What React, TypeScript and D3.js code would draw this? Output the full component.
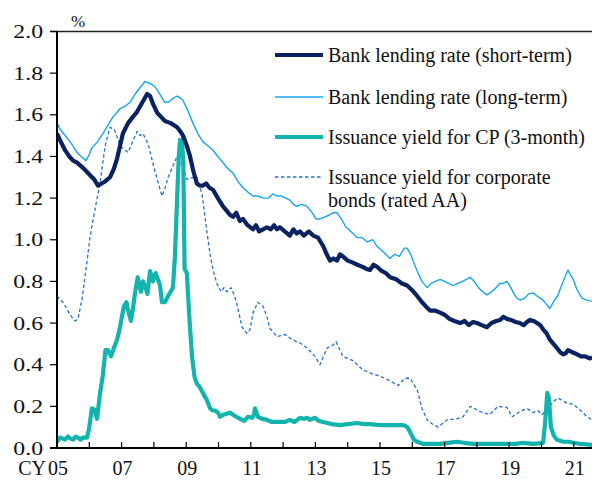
import React, { useEffect, useRef } from 'react';
import * as d3 from 'd3';

// [year (decimal), % ]
const shortTermRate: [number, number][] = [
  [2005.0, 1.51], [2005.12, 1.47], [2005.25, 1.43], [2005.38, 1.40], [2005.5, 1.38], [2005.62, 1.37],
  [2005.77, 1.35], [2005.9, 1.33], [2006.02, 1.31], [2006.15, 1.29], [2006.27, 1.26], [2006.38, 1.27],
  [2006.49, 1.28], [2006.64, 1.30], [2006.76, 1.34], [2006.86, 1.39], [2006.95, 1.45], [2007.04, 1.51],
  [2007.2, 1.56], [2007.35, 1.59], [2007.46, 1.61], [2007.57, 1.64], [2007.68, 1.67], [2007.79, 1.70],
  [2007.88, 1.69], [2007.98, 1.65], [2008.1, 1.61], [2008.22, 1.59], [2008.34, 1.57], [2008.52, 1.56],
  [2008.72, 1.54], [2008.82, 1.52], [2008.9, 1.50], [2009.0, 1.46], [2009.12, 1.40], [2009.22, 1.33],
  [2009.33, 1.27], [2009.42, 1.26], [2009.52, 1.26], [2009.62, 1.27], [2009.72, 1.25], [2009.83, 1.24],
  [2009.98, 1.20], [2010.14, 1.16], [2010.25, 1.14], [2010.35, 1.12], [2010.45, 1.11], [2010.55, 1.13],
  [2010.66, 1.09], [2010.76, 1.10], [2010.9, 1.07], [2011.07, 1.05], [2011.16, 1.07], [2011.26, 1.04],
  [2011.38, 1.05], [2011.5, 1.06], [2011.62, 1.05], [2011.72, 1.07], [2011.81, 1.05], [2011.9, 1.06],
  [2012.05, 1.04], [2012.21, 1.02], [2012.32, 1.05], [2012.42, 1.03], [2012.52, 1.04], [2012.64, 1.02],
  [2012.8, 1.04], [2012.93, 1.02], [2013.08, 1.01], [2013.24, 0.97], [2013.35, 0.93], [2013.45, 0.90],
  [2013.56, 0.91], [2013.67, 0.90], [2013.76, 0.93], [2013.85, 0.92], [2014.0, 0.90], [2014.16, 0.89],
  [2014.3, 0.88], [2014.46, 0.87], [2014.58, 0.86], [2014.69, 0.855], [2014.8, 0.88], [2014.91, 0.87],
  [2015.05, 0.85], [2015.18, 0.84], [2015.31, 0.82], [2015.5, 0.81], [2015.68, 0.79], [2015.84, 0.78],
  [2015.98, 0.76], [2016.15, 0.73], [2016.3, 0.70], [2016.42, 0.68], [2016.55, 0.66], [2016.7, 0.66],
  [2016.86, 0.65], [2017.0, 0.64], [2017.15, 0.62], [2017.3, 0.61], [2017.48, 0.60], [2017.62, 0.61],
  [2017.75, 0.59], [2017.88, 0.605], [2018.0, 0.60], [2018.15, 0.59], [2018.31, 0.58], [2018.45, 0.60],
  [2018.6, 0.61], [2018.72, 0.615], [2018.82, 0.63], [2018.93, 0.62], [2019.05, 0.615], [2019.2, 0.605],
  [2019.33, 0.60], [2019.45, 0.59], [2019.55, 0.605], [2019.64, 0.615], [2019.76, 0.61], [2019.86, 0.60],
  [2019.96, 0.59], [2020.05, 0.57], [2020.16, 0.55], [2020.26, 0.52], [2020.37, 0.50], [2020.48, 0.48],
  [2020.58, 0.46], [2020.67, 0.45], [2020.75, 0.455], [2020.82, 0.47], [2020.95, 0.46], [2021.1, 0.45],
  [2021.22, 0.44], [2021.35, 0.44], [2021.5, 0.43], [2021.57, 0.435],
];

const longTermRate: [number, number][] = [
  [2005.0, 1.56], [2005.1, 1.53], [2005.2, 1.51], [2005.31, 1.49], [2005.45, 1.46], [2005.62, 1.42],
  [2005.75, 1.40], [2005.9, 1.38], [2006.0, 1.41], [2006.08, 1.44], [2006.25, 1.47], [2006.42, 1.51],
  [2006.58, 1.55], [2006.73, 1.59], [2006.85, 1.61], [2006.95, 1.63], [2007.1, 1.64], [2007.26, 1.66],
  [2007.42, 1.70], [2007.57, 1.73], [2007.72, 1.76], [2007.88, 1.75], [2008.0, 1.74], [2008.1, 1.72],
  [2008.22, 1.69], [2008.34, 1.66], [2008.45, 1.66], [2008.6, 1.68], [2008.72, 1.69], [2008.82, 1.68],
  [2008.9, 1.67], [2009.05, 1.62], [2009.21, 1.56], [2009.36, 1.51], [2009.52, 1.47], [2009.68, 1.45],
  [2009.83, 1.43], [2009.98, 1.40], [2010.14, 1.37], [2010.3, 1.34], [2010.45, 1.32], [2010.6, 1.28],
  [2010.76, 1.25], [2010.9, 1.23], [2011.07, 1.21], [2011.22, 1.21], [2011.38, 1.20], [2011.55, 1.20],
  [2011.68, 1.22], [2011.81, 1.21], [2011.95, 1.21], [2012.08, 1.20], [2012.21, 1.19], [2012.32, 1.17],
  [2012.43, 1.16], [2012.58, 1.17], [2012.74, 1.16], [2012.9, 1.13], [2013.02, 1.10], [2013.14, 1.10],
  [2013.3, 1.11], [2013.45, 1.12], [2013.55, 1.13], [2013.67, 1.13], [2013.8, 1.10], [2013.95, 1.06],
  [2014.1, 1.04], [2014.29, 1.01], [2014.45, 1.01], [2014.6, 0.99], [2014.78, 1.00], [2014.9, 0.97],
  [2015.05, 0.95], [2015.18, 0.93], [2015.31, 0.91], [2015.45, 0.93], [2015.6, 0.92], [2015.75, 0.96],
  [2015.84, 0.96], [2015.95, 0.93], [2016.02, 0.90], [2016.15, 0.85], [2016.3, 0.80], [2016.46, 0.77],
  [2016.58, 0.79], [2016.72, 0.80], [2016.86, 0.81], [2017.0, 0.80], [2017.12, 0.79], [2017.26, 0.78],
  [2017.4, 0.79], [2017.55, 0.80], [2017.68, 0.81], [2017.79, 0.82], [2017.92, 0.80], [2018.05, 0.77],
  [2018.18, 0.75], [2018.31, 0.735], [2018.45, 0.75], [2018.6, 0.77], [2018.7, 0.79], [2018.81, 0.79],
  [2018.93, 0.80], [2019.05, 0.77], [2019.15, 0.74], [2019.24, 0.72], [2019.35, 0.71], [2019.48, 0.72],
  [2019.6, 0.74], [2019.74, 0.745], [2019.86, 0.73], [2019.96, 0.72], [2020.05, 0.71], [2020.15, 0.69],
  [2020.26, 0.67], [2020.4, 0.71], [2020.5, 0.73], [2020.57, 0.76], [2020.7, 0.81], [2020.82, 0.855],
  [2020.9, 0.83], [2020.98, 0.81], [2021.1, 0.76], [2021.25, 0.72], [2021.4, 0.71], [2021.57, 0.705],
];

const cpYield: [number, number][] = [
  [2005.0, 0.03], [2005.09, 0.05], [2005.18, 0.045], [2005.25, 0.04], [2005.34, 0.055], [2005.42, 0.045],
  [2005.5, 0.04], [2005.58, 0.055], [2005.65, 0.05], [2005.73, 0.04], [2005.8, 0.05], [2005.93, 0.05],
  [2005.99, 0.09], [2006.08, 0.19], [2006.15, 0.185], [2006.24, 0.14], [2006.33, 0.26], [2006.42, 0.35],
  [2006.5, 0.47], [2006.58, 0.47], [2006.67, 0.44], [2006.76, 0.48], [2006.86, 0.52], [2006.95, 0.58],
  [2007.07, 0.68], [2007.15, 0.70], [2007.2, 0.66], [2007.29, 0.61], [2007.36, 0.68], [2007.41, 0.74],
  [2007.5, 0.82], [2007.55, 0.78], [2007.6, 0.75], [2007.66, 0.80], [2007.72, 0.78], [2007.8, 0.74],
  [2007.88, 0.85], [2007.97, 0.80], [2008.05, 0.84], [2008.1, 0.82], [2008.19, 0.78], [2008.25, 0.70],
  [2008.34, 0.70], [2008.44, 0.73], [2008.59, 0.77], [2008.65, 0.92], [2008.72, 1.20], [2008.77, 1.40],
  [2008.81, 1.48], [2008.87, 1.47], [2008.91, 1.38], [2008.95, 0.86], [2009.02, 0.84], [2009.1, 0.62],
  [2009.18, 0.44], [2009.26, 0.34], [2009.33, 0.31], [2009.43, 0.29], [2009.53, 0.26], [2009.64, 0.23],
  [2009.74, 0.19], [2009.82, 0.18], [2009.89, 0.18], [2009.98, 0.17], [2010.05, 0.15], [2010.15, 0.16],
  [2010.27, 0.165], [2010.36, 0.17], [2010.45, 0.16], [2010.55, 0.15], [2010.67, 0.14], [2010.8, 0.13],
  [2010.91, 0.15], [2011.04, 0.145], [2011.1, 0.16], [2011.13, 0.19], [2011.22, 0.15], [2011.35, 0.14],
  [2011.5, 0.135], [2011.65, 0.125], [2011.9, 0.125], [2012.05, 0.125], [2012.21, 0.135], [2012.35, 0.125],
  [2012.52, 0.145], [2012.65, 0.14], [2012.75, 0.145], [2012.83, 0.135], [2012.99, 0.145], [2013.1, 0.13],
  [2013.24, 0.125], [2013.5, 0.115], [2013.76, 0.11], [2014.0, 0.115], [2014.29, 0.12], [2014.5, 0.115],
  [2014.69, 0.115], [2015.0, 0.11], [2015.31, 0.11], [2015.5, 0.11], [2015.71, 0.11], [2015.8, 0.105],
  [2015.87, 0.095], [2015.95, 0.07], [2016.05, 0.04], [2016.15, 0.03], [2016.33, 0.02], [2016.6, 0.02],
  [2016.86, 0.02], [2017.1, 0.025], [2017.38, 0.03], [2017.6, 0.025], [2017.88, 0.02], [2018.2, 0.02],
  [2018.6, 0.02], [2018.93, 0.02], [2019.2, 0.02], [2019.43, 0.025], [2019.75, 0.02], [2020.05, 0.025],
  [2020.11, 0.12], [2020.18, 0.265], [2020.23, 0.24], [2020.29, 0.10], [2020.38, 0.06], [2020.48, 0.04],
  [2020.67, 0.03], [2020.85, 0.03], [2020.98, 0.025], [2021.2, 0.02], [2021.57, 0.015],
];

const corporateBondYield: [number, number][] = [
  [2005.0, 0.73], [2005.1, 0.71], [2005.19, 0.70], [2005.3, 0.67], [2005.4, 0.64], [2005.5, 0.62],
  [2005.56, 0.61], [2005.65, 0.62], [2005.77, 0.71], [2005.9, 0.86], [2006.02, 1.01], [2006.18, 1.15],
  [2006.33, 1.27], [2006.49, 1.45], [2006.64, 1.54], [2006.77, 1.53], [2006.87, 1.49], [2006.95, 1.45],
  [2007.11, 1.43], [2007.2, 1.42], [2007.34, 1.47], [2007.48, 1.52], [2007.57, 1.50], [2007.66, 1.51],
  [2007.82, 1.46], [2008.03, 1.33], [2008.14, 1.27], [2008.25, 1.21], [2008.35, 1.25], [2008.44, 1.30],
  [2008.58, 1.35], [2008.72, 1.40], [2008.8, 1.36], [2008.87, 1.38], [2008.94, 1.33], [2009.02, 1.29],
  [2009.21, 1.30], [2009.33, 1.30], [2009.49, 1.22], [2009.64, 1.04], [2009.74, 0.93], [2009.83, 0.855],
  [2009.95, 0.79], [2010.08, 0.75], [2010.17, 0.77], [2010.26, 0.75], [2010.39, 0.77], [2010.51, 0.725],
  [2010.6, 0.67], [2010.73, 0.58], [2010.88, 0.55], [2010.98, 0.57], [2011.07, 0.65], [2011.22, 0.70],
  [2011.38, 0.68], [2011.5, 0.63], [2011.59, 0.575], [2011.81, 0.535], [2012.06, 0.545], [2012.28, 0.52],
  [2012.52, 0.505], [2012.74, 0.48], [2012.99, 0.44], [2013.14, 0.40], [2013.36, 0.48], [2013.51, 0.49],
  [2013.64, 0.51], [2013.85, 0.44], [2014.16, 0.42], [2014.47, 0.375], [2014.78, 0.355], [2015.0, 0.345],
  [2015.22, 0.33], [2015.56, 0.30], [2015.77, 0.335], [2015.93, 0.335], [2016.15, 0.28], [2016.3, 0.19],
  [2016.46, 0.135], [2016.62, 0.115], [2016.8, 0.10], [2016.95, 0.12], [2017.07, 0.135], [2017.38, 0.14],
  [2017.57, 0.15], [2017.79, 0.20], [2018.1, 0.175], [2018.4, 0.16], [2018.65, 0.20], [2018.93, 0.195],
  [2019.09, 0.15], [2019.33, 0.175], [2019.55, 0.19], [2019.74, 0.17], [2019.89, 0.18], [2020.02, 0.16],
  [2020.2, 0.19], [2020.35, 0.22], [2020.51, 0.24], [2020.79, 0.215], [2020.98, 0.21], [2021.25, 0.175],
  [2021.41, 0.15], [2021.57, 0.135],
];

const yTicks = [0, 0.2, 0.4, 0.6, 0.8, 1.0, 1.2, 1.4, 1.6, 1.8, 2.0];
const yearTicks = d3.range(2006, 2022);
const yearLabels = [2005, 2007, 2009, 2011, 2013, 2015, 2017, 2019, 2021];

const seriesNames = [
  ['Bank lending rate (short-term)'],
  ['Bank lending rate (long-term)'],
  ['Issuance yield for CP (3-month)'],
  ['Issuance yield for corporate', 'bonds (rated AA)'],
];

const W = 592;
const H = 480;
const FONT = '"Liberation Serif", "Times New Roman", serif';

export default function App() {
  const svgRef = useRef<SVGSVGElement>(null);

  useEffect(() => {
    const svg = d3.select(svgRef.current);
    svg.selectAll('*').remove();

    const left = 57;
    const top = 31.5;
    const bottom = 448;

    const x = d3.scaleLinear().domain([2005, 2022]).range([left, left + 17 * 32.3]);
    const y = d3.scaleLinear().domain([0, 2]).range([bottom, top]);

    // Series: style per legend entry
    const styles = [
      { data: shortTermRate, color: '#0b2262', width: 4.2, dash: null },
      { data: longTermRate, color: '#16a6ec', width: 1.4, dash: null },
      { data: cpYield, color: '#13b3ae', width: 4.2, dash: null },
      { data: corporateBondYield, color: '#2473c9', width: 1.3, dash: '3.5,2.5' },
    ];

    svg.append('defs')
      .append('clipPath')
      .attr('id', 'plot-clip')
      .append('rect')
      .attr('x', left)
      .attr('y', 0)
      .attr('width', W - left)
      .attr('height', bottom);

    const line = d3
      .line<[number, number]>()
      .x(d => x(d[0]))
      .y(d => y(d[1]));

    const plot = svg.append('g').attr('clip-path', 'url(#plot-clip)');
    // draw thin series first, then thick ones on top
    [3, 1, 2, 0].forEach(i => {
      const s = styles[i];
      plot
        .append('path')
        .attr('d', line(s.data))
        .attr('fill', 'none')
        .attr('stroke', s.color)
        .attr('stroke-width', s.width)
        .attr('stroke-linejoin', 'round')
        .attr('stroke-dasharray', s.dash);
    });

    // Frame lines
    svg.append('line')
      .attr('x1', 50).attr('x2', W)
      .attr('y1', top).attr('y2', top)
      .attr('stroke', '#222').attr('stroke-width', 1.5);
    svg.append('line')
      .attr('x1', left).attr('x2', left)
      .attr('y1', top).attr('y2', bottom)
      .attr('stroke', '#000').attr('stroke-width', 2);
    svg.append('line')
      .attr('x1', 50).attr('x2', W)
      .attr('y1', bottom).attr('y2', bottom)
      .attr('stroke', '#000').attr('stroke-width', 2);

    // Y ticks and labels
    svg.selectAll('.ytick')
      .data(yTicks)
      .enter()
      .append('line')
      .attr('x1', 50).attr('x2', left)
      .attr('y1', d => y(d)).attr('y2', d => y(d))
      .attr('stroke', '#000').attr('stroke-width', 1.2);

    // the reference glyphs are a little wider than they are tall
    svg.selectAll('.ylabel')
      .data(yTicks)
      .enter()
      .append('text')
      .attr('transform', d => `translate(43,${y(d) + 6.5}) scale(1.25,1)`)
      .attr('text-anchor', 'end')
      .style('font-family', FONT)
      .style('font-size', '19px')
      .style('fill', '#111')
      .text(d => d3.format('.1f')(d));

    svg.append('text')
      .attr('x', 78)
      .attr('y', 27)
      .attr('text-anchor', 'middle')
      .style('font-family', FONT)
      .style('font-size', '17px')
      .style('fill', '#111')
      .text('%');

    // X ticks (pointing up) and labels
    svg.selectAll('.xtick')
      .data(yearTicks)
      .enter()
      .append('line')
      .attr('x1', d => x(d)).attr('x2', d => x(d))
      .attr('y1', bottom - 6).attr('y2', bottom)
      .attr('stroke', '#000').attr('stroke-width', 1.2);

    svg.selectAll('.xlabel')
      .data(yearLabels)
      .enter()
      .append('text')
      .attr('x', d => x(d) + 1)
      .attr('y', 475)
      .attr('text-anchor', 'middle')
      .style('font-family', FONT)
      .style('font-size', '20px')
      .style('fill', '#111')
      .text(d => String(d % 100).padStart(2, '0'));

    svg.append('text')
      .attr('x', x(2005) - 11)
      .attr('y', 475)
      .attr('text-anchor', 'end')
      .style('font-family', FONT)
      .style('font-size', '20px')
      .style('fill', '#111')
      .text('CY');

    // Legend
    const legendY = [55, 97, 137, 177];
    const legend = svg.append('g');
    seriesNames.forEach((lines, i) => {
      const s = styles[i];
      legend.append('line')
        .attr('x1', 275).attr('x2', 323)
        .attr('y1', legendY[i]).attr('y2', legendY[i])
        .attr('stroke', s.color)
        .attr('stroke-width', s.width > 3 ? 4 : s.width)
        .attr('stroke-dasharray', s.dash);
      lines.forEach((t, j) => {
        legend.append('text')
          .attr('x', 328)
          .attr('y', legendY[i] + 7 + j * 23)
          .style('font-family', FONT)
          .style('font-size', '20px')
          .style('fill', '#111')
          .text(t);
      });
    });
  }, []);

  return (
    <svg
      ref={svgRef}
      width={W}
      height={H}
      style={{ position: 'absolute', left: 0, top: 0, background: '#fff' }}
    />
  );
}
